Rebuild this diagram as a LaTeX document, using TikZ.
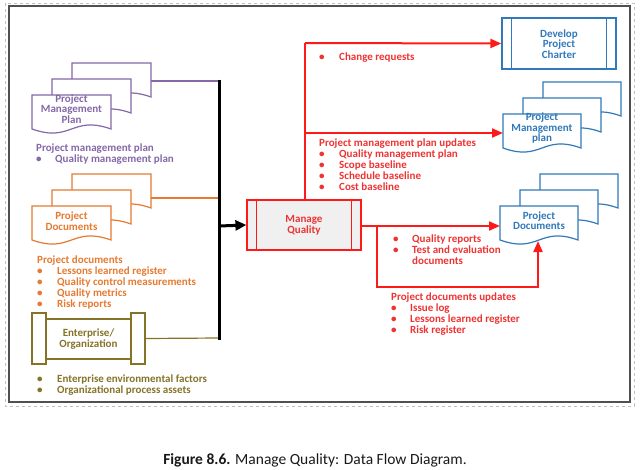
\documentclass[tikz,border=0pt]{standalone}
\usepackage{fontspec}
\setmainfont{Carlito}
\usetikzlibrary{arrows.meta}
\definecolor{cpur}{HTML}{8468A8}
\definecolor{corg}{HTML}{E67A30}
\definecolor{coli}{HTML}{857328}
\definecolor{cred}{HTML}{FF1A1A}
\definecolor{credt}{HTML}{EE3333}
\definecolor{cblu}{HTML}{3079BA}
\definecolor{cframe}{HTML}{505050}
\tikzset{
  lbl/.style={font=\bfseries\fontsize{11}{10.5}\selectfont, align=center, inner sep=0},
  lst/.style={font=\bfseries\fontsize{11}{11}\selectfont, align=left, inner sep=0, anchor=base west},
  shp/.style={line width=1.2pt},
  rconn/.style={cred, line width=2pt},
  rarr/.style={rconn, -{Triangle[length=11pt,width=9pt]}},
  bconn/.style={black, line width=3pt},
}
\newcommand\bul[1]{\makebox[#1pt][l]{\textbullet}}
\newcommand\docstack[4]{%
  \foreach \i in {2,1,0}{%
    \pgfmathsetmacro\xx{#1+20*\i}\pgfmathsetmacro\yy{#2-16*\i}%
    \draw[#3, shp, fill=white] (\xx,\yy) -- ++(#4,0) -- ++(0,34)
      .. controls +(-#4/2,-14) and +(#4/2,14) .. (\xx,\yy+34) -- cycle;
  }%
}
\begin{document}
\begin{tikzpicture}[x=1pt,y=-1pt]
\useasboundingbox (0,0) rectangle (640,469);
% frames
\draw[gray!50, dashed, line width=0.6pt] (5,3) rectangle (634,406);
\draw[cframe, line width=2pt] (9,6) rectangle (630,402);

% ---------- inputs ----------
\docstack{32}{95}{cpur}{79}
\node[lbl, text=cpur] (pmpin) at (71.5,109) {Project\\Management\\Plan};
\coordinate (pmpback) at (151,81);

\docstack{32}{206}{corg}{79}
\node[lbl, text=corg] (pdin) at (71.5,221) {Project\\Documents};
\coordinate (pdback) at (151,198);

\node[minimum width=113pt, minimum height=51pt, inner sep=0] (ent) at (88.5,338.5) {};
\draw[coli, shp] (32,313) rectangle (46,364);
\draw[coli, shp] (131,313) rectangle (145,364);
\draw[coli, shp] (46,319) rectangle (131,359);
\node[lbl, text=coli] at (88.5,339) {Enterprise/\\Organization};

% input texts (base anchor = baseline of last line)
\node[lst, text=cpur] (tpmp) at (36,162) {Project management plan\\\bul{19}Quality management plan};
\node[lst, text=corg] (tpd) at (37,307) {Project documents\\\bul{20}Lessons learned register\\\bul{20}Quality control measurements\\\bul{20}Quality metrics\\\bul{20}Risk reports};
\node[lst, text=coli] (tent) at (37,393) {\bul{20}Enterprise environmental factors\\\bul{20}Organizational process assets};

% bus
\coordinate (bustop) at (219,81);
\coordinate (busbot) at (219,338);
\coordinate (busmid) at (219,226);
\draw[cpur, line width=1.2pt] (pmpback) -- (bustop);
\draw[corg, line width=1.2pt] (pdback) -- (219,198);
\draw[coli, line width=1.2pt] (ent.east) -- (busbot);
\draw[bconn] ([yshift=1.5pt]bustop) -- ([yshift=-1.5pt]busbot);

% ---------- process ----------
\node[draw=cred, fill=gray!12, shp, minimum width=114pt, minimum height=50pt, inner sep=0] (mq) at (304,225) {};
\draw[cred, shp] ([xshift=10pt]mq.north west) -- ([xshift=10pt]mq.south west);
\draw[cred, shp] ([xshift=-10pt]mq.north east) -- ([xshift=-10pt]mq.south east);
\node[lbl, text=credt] at (304,225.5) {Manage\\Quality};
\draw[bconn, -{Triangle[length=11pt,width=10pt]}] (busmid) -- (mq.west);

% ---------- outputs ----------
\node[draw=cblu, shp, minimum width=114pt, minimum height=51pt, inner sep=0] (dpc) at (559,43.5) {};
\draw[cblu, shp] ([xshift=10pt]dpc.north west) -- ([xshift=10pt]dpc.south west);
\draw[cblu, shp] ([xshift=-10pt]dpc.north east) -- ([xshift=-10pt]dpc.south east);
\node[lbl, text=cblu] at (559,44) {Develop\\Project\\Charter};

\docstack{503}{114}{cblu}{78}
\node[lbl, text=cblu] (pmpout) at (542,128.5) {Project\\Management\\plan};
\coordinate (pmpoutw) at (503,133);

\docstack{500}{206}{cblu}{78}
\node[lbl, text=cblu] (pdout) at (539,220.5) {Project\\Documents};
\coordinate (pdoutw) at (500,226);
\coordinate (pdoutb) at (538,241);

% red connectors
\coordinate (jtop) at (305,43);
\coordinate (jpmp) at (305,133);
\draw[rconn] (mq.north -| jtop) -- (jtop);
\draw[rarr] (jtop) -- (dpc.west);
\draw[rarr] (jpmp) -- (pmpoutw);
\draw[rarr] (mq.east |- pdoutw) -- (pdoutw);
\coordinate (jd) at (377,226);
\draw[rarr] (jd) -- (377,287) -- (538,287) -- (pdoutb);

% output texts (base anchor = baseline of last line)
\node[lst, text=credt] (tcr) at (319,60) {\bul{20}Change requests};
\node[lst, text=credt] (tpmpu) at (319,190) {Project management plan updates\\\bul{20}Quality management plan\\\bul{20}Scope baseline\\\bul{20}Schedule baseline\\\bul{20}Cost baseline};
\node[lst, text=credt] (tqr) at (393,264) {\bul{19}Quality reports\\\bul{19}Test and evaluation\\\hspace*{19pt}documents};
\node[lst, text=credt] (tpdu) at (391,333) {Project documents updates\\\bul{19}Issue log\\\bul{19}Lessons learned register\\\bul{19}Risk register};

% caption
\node[font=\fontsize{15.5}{17}\selectfont, text=black!90, inner sep=0] (cap) at (315,460) {\textbf{Figure 8.6.} Manage Quality: Data Flow Diagram.};
\end{tikzpicture}
\end{document}
